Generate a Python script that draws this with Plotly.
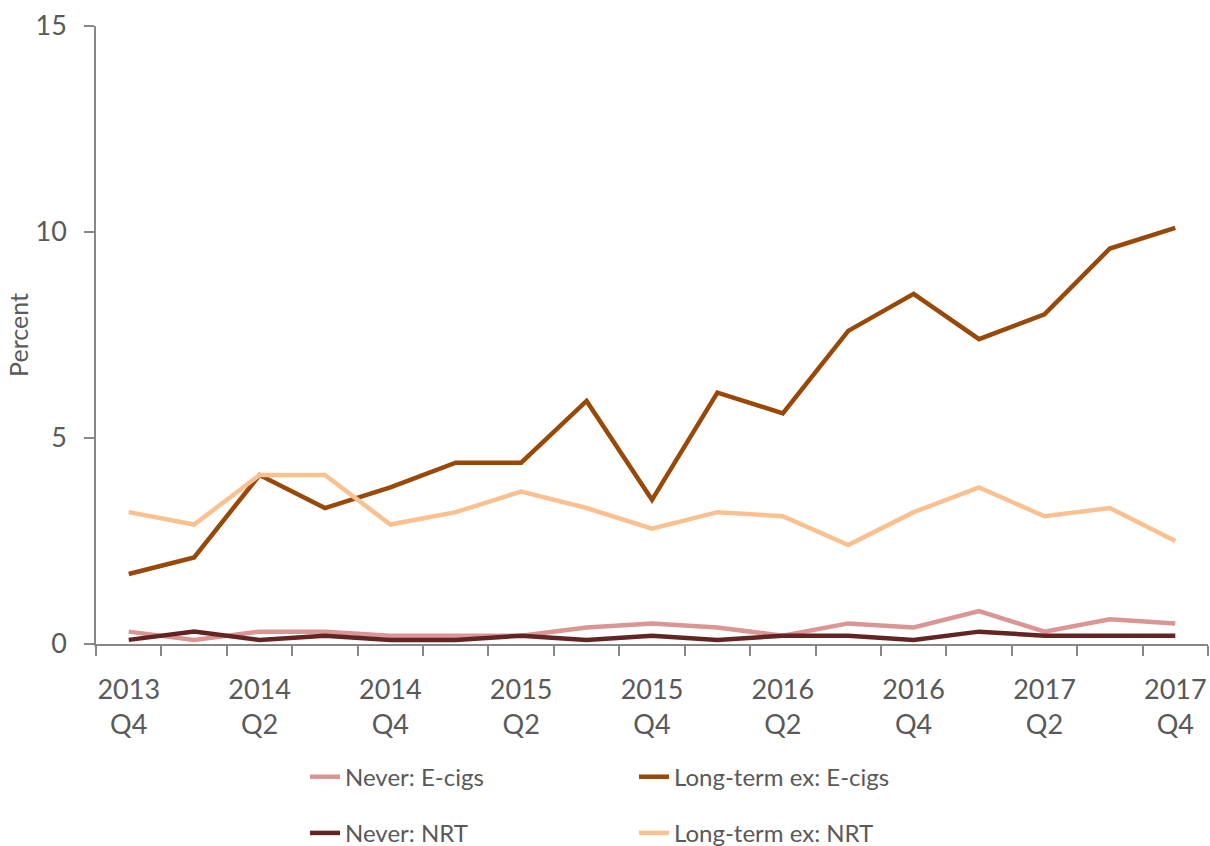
import plotly.graph_objects as go

quarters = ["2013 Q4", "2014 Q1", "2014 Q2", "2014 Q3", "2014 Q4", "2015 Q1", "2015 Q2",
            "2015 Q3", "2015 Q4", "2016 Q1", "2016 Q2", "2016 Q3", "2016 Q4", "2017 Q1",
            "2017 Q2", "2017 Q3", "2017 Q4"]
never_ecigs = [0.3, 0.1, 0.3, 0.3, 0.2, 0.2, 0.2, 0.4, 0.5, 0.4, 0.2, 0.5, 0.4, 0.8, 0.3, 0.6, 0.5]
longterm_ecigs = [1.7, 2.1, 4.1, 3.3, 3.8, 4.4, 4.4, 5.9, 3.5, 6.1, 5.6, 7.6, 8.5, 7.4, 8.0, 9.6, 10.1]
never_nrt = [0.1, 0.3, 0.1, 0.2, 0.1, 0.1, 0.2, 0.1, 0.2, 0.1, 0.2, 0.2, 0.1, 0.3, 0.2, 0.2, 0.2]
longterm_nrt = [3.2, 2.9, 4.1, 4.1, 2.9, 3.2, 3.7, 3.3, 2.8, 3.2, 3.1, 2.4, 3.2, 3.8, 3.1, 3.3, 2.5]

tick_idx = list(range(0, len(quarters), 2))
tick_text = [quarters[i].replace(" ", "<br>") for i in tick_idx]
y_ticks = [0, 5, 10, 15]

FONT = "Lato, 'Open Sans', sans-serif"
TXT = "#595959"
AX = "#878787"

x = list(range(len(quarters)))
fig = go.Figure()
series = [
    ("Never: E-cigs", never_ecigs, "#DA9694", "legend", "g1"),
    ("Long-term ex: E-cigs", longterm_ecigs, "#984807", "legend2", "g2"),
    ("Never: NRT", never_nrt, "#632523", "legend", "g3"),
    ("Long-term ex: NRT", longterm_nrt, "#FAC090", "legend2", "g4"),
]
for name, vals, col, leg, grp in series:
    fig.add_trace(go.Scatter(
        x=x, y=vals, name=name, mode="lines",
        line=dict(color=col, width=4.5),
        legend=leg, legendgroup=grp,
        customdata=quarters, hovertemplate="%{customdata}: %{y}<extra>" + name + "</extra>",
    ))

legend_common = dict(
    orientation="v", yanchor="top", y=-0.179, xanchor="left",
    font=dict(family=FONT, size=24, color=TXT),
    bgcolor="rgba(0,0,0,0)", tracegroupgap=22, itemwidth=30,
    traceorder="grouped",
)

fig.update_layout(
    width=1210, height=846,
    margin=dict(l=96, r=2, t=26, b=202, autoexpand=False),
    paper_bgcolor="white", plot_bgcolor="white",
    font=dict(family=FONT, color=TXT),
    showlegend=True,
    legend=dict(x=(305 - 96) / 1112, **legend_common),
    legend2=dict(x=(634 - 96) / 1112, **legend_common),
    xaxis=dict(
        range=[-0.5, len(quarters) - 0.5], automargin=False,
        tickmode="array", tickvals=tick_idx, ticktext=tick_text,
        ticks="", showgrid=False, zeroline=False,
        showline=True, linecolor=AX, linewidth=1.5,
        tickfont=dict(family=FONT, size=27, color=TXT),
        ticklabelstandoff=21,
        minor=dict(ticks="outside", tick0=-0.5, dtick=1, ticklen=10,
                   tickcolor=AX, tickwidth=1.5, showgrid=False),
    ),
    yaxis=dict(
        range=[0, 15], tickmode="array", tickvals=y_ticks, automargin=False,
        ticks="outside", ticklen=10, tickcolor=AX, tickwidth=1.5,
        showgrid=False, zeroline=False,
        showline=True, linecolor=AX, linewidth=1.5,
        tickfont=dict(family=FONT, size=27, color=TXT),
        ticklabelstandoff=12,
        title=dict(text="Percent", font=dict(family=FONT, size=25, color=TXT), standoff=0),
    ),
)

fig.write_html("out.html", post_script="document.body.style.margin='0';",
               config={"displayModeBar": False})
